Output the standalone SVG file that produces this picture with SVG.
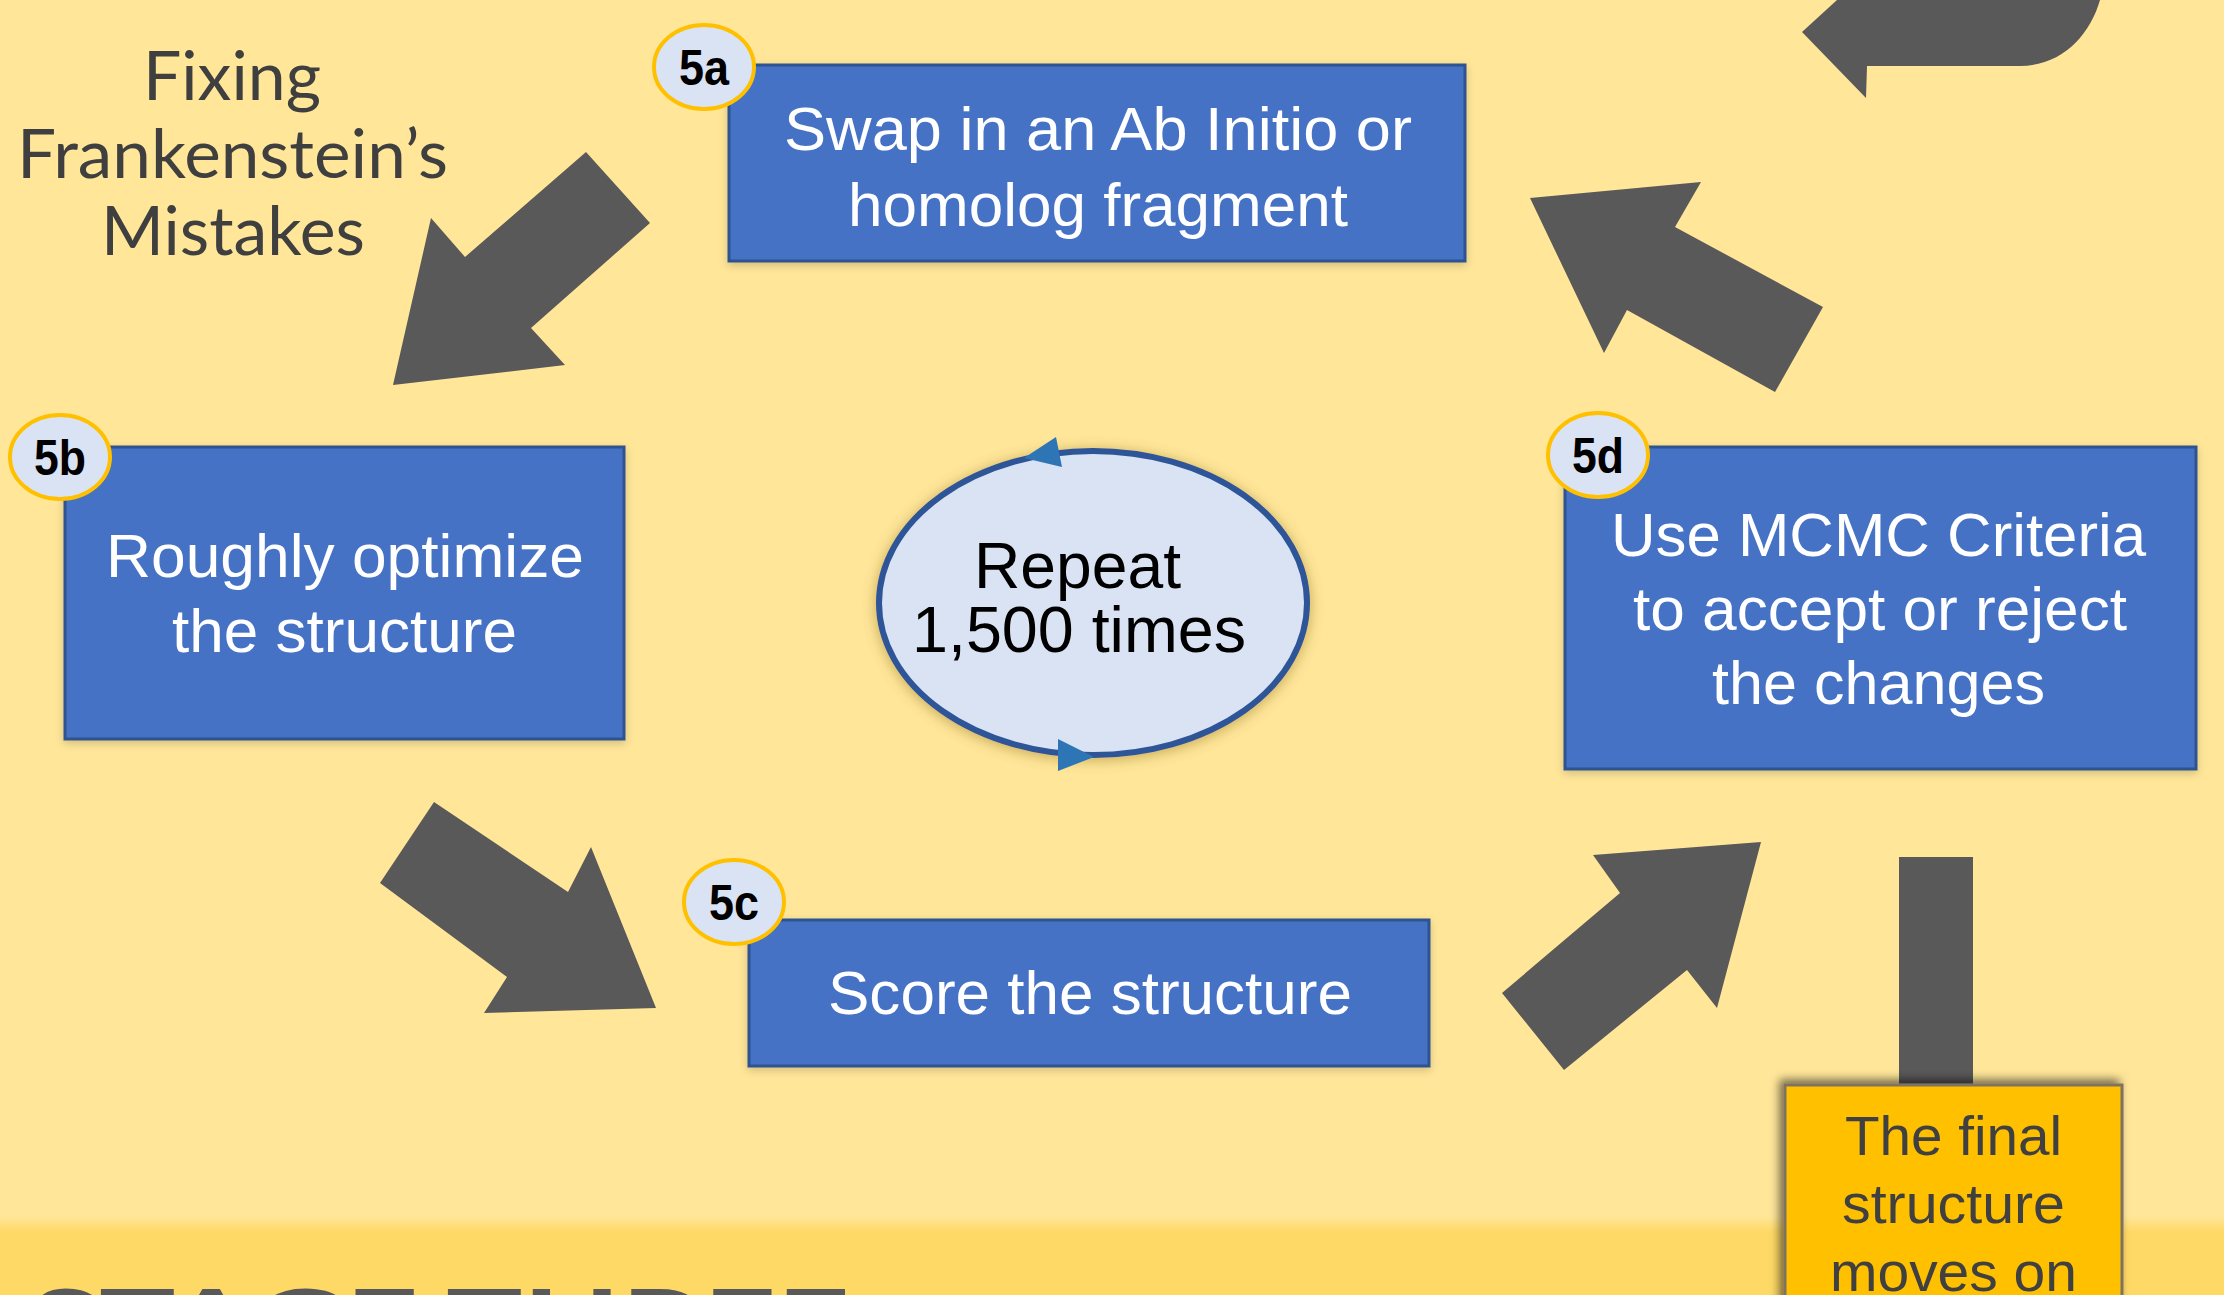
<svg xmlns="http://www.w3.org/2000/svg" width="2224" height="1295" viewBox="0 0 2224 1295">
<style>
.box{fill:#4472C4;stroke:#2F528F;stroke-width:3}
.bt{font-family:"Liberation Sans",Arial,sans-serif;font-size:62px;fill:#FFFFFF}
.lab{fill:#DAE3F3;stroke:#FFC000;stroke-width:4}
.lt{font-family:"Liberation Sans",Arial,sans-serif;font-size:50px;font-weight:bold;fill:#000000;text-anchor:middle}
.arr{fill:#595959}
.title{font-family:Lato,"Open Sans",sans-serif;font-size:68px;fill:#3F3F3F}
</style>
<defs>
<linearGradient id="band" x1="0" y1="0" x2="0" y2="1">
<stop offset="0" stop-color="#FFE699"/>
<stop offset="1" stop-color="#FFD966"/>
</linearGradient>
<filter id="sh" x="-10%" y="-10%" width="120%" height="130%">
<feDropShadow dx="0" dy="3" stdDeviation="4" flood-color="#000" flood-opacity="0.18"/>
</filter>
<filter id="esh" x="-15%" y="-15%" width="130%" height="130%">
<feDropShadow dx="0" dy="2" stdDeviation="7" flood-color="#7a5a00" flood-opacity="0.45"/>
</filter>
<filter id="fsh" x="-10%" y="-10%" width="120%" height="120%">
<feDropShadow dx="-4" dy="-4" stdDeviation="5" flood-color="#000" flood-opacity="0.55"/>
</filter>
</defs>
<rect width="2224" height="1295" fill="#FFE699"/>
<rect x="0" y="1216" width="2224" height="16" fill="url(#band)"/>
<rect x="0" y="1231" width="2224" height="64" fill="#FFD966"/>
<text x="29" y="1354" font-family="Lato,'Open Sans',sans-serif" font-size="90" font-weight="bold" fill="#595959" textLength="821" lengthAdjust="spacingAndGlyphs">STAGE THREE</text>

<g id="title">
<text class="title" x="143" y="100" textLength="178" lengthAdjust="spacingAndGlyphs">Fixing</text>
<text class="title" x="17" y="178" textLength="431" lengthAdjust="spacingAndGlyphs">Frankenstein’s</text>
<text class="title" x="101" y="255" textLength="264" lengthAdjust="spacingAndGlyphs">Mistakes</text>
</g>

<g id="connectors">
<polygon class="arr" points="586,152 650,223 531,328 565,365 393,385 431,218 465,257"/>
<polygon class="arr" points="434,802 380,883 507,977 484,1013 656,1008 591,847 568,892"/>
<polygon class="arr" points="1502,993 1564,1070 1687,970 1717,1008 1761,842 1593,855 1620,893"/>
<polygon class="arr" points="1823,307 1775,392 1627,310 1604,353 1530,198 1701,182 1675,227"/>
<path class="arr" d="M1837,0 L1802,32 L1866,98 L1867,66 L2020,66 C2062,66 2090,35 2100,0 Z"/>
<rect class="arr" x="1899" y="857" width="74" height="228"/>
</g>

<g id="node-5a">
<rect class="box" x="729" y="65" width="736" height="196" filter="url(#sh)"/>
<text class="bt" x="784" y="150" textLength="628" lengthAdjust="spacingAndGlyphs">Swap in an Ab Initio or</text>
<text class="bt" x="848" y="226" textLength="500" lengthAdjust="spacingAndGlyphs">homolog fragment</text>
<ellipse class="lab" cx="704" cy="67" rx="50" ry="42"/>
<text class="lt" x="704" y="85" textLength="50" lengthAdjust="spacingAndGlyphs">5a</text>
</g>

<g id="node-5b">
<rect class="box" x="65" y="447" width="559" height="292" filter="url(#sh)"/>
<text class="bt" x="106" y="577" textLength="478" lengthAdjust="spacingAndGlyphs">Roughly optimize</text>
<text class="bt" x="172" y="652" textLength="345" lengthAdjust="spacingAndGlyphs">the structure</text>
<ellipse class="lab" cx="60" cy="457" rx="50" ry="42"/>
<text class="lt" x="60" y="475" textLength="52" lengthAdjust="spacingAndGlyphs">5b</text>
</g>

<g id="node-5c">
<rect class="box" x="749" y="920" width="680" height="146" filter="url(#sh)"/>
<text class="bt" x="828" y="1014" textLength="524" lengthAdjust="spacingAndGlyphs">Score the structure</text>
<ellipse class="lab" cx="734" cy="902" rx="50" ry="42"/>
<text class="lt" x="734" y="920" textLength="50" lengthAdjust="spacingAndGlyphs">5c</text>
</g>

<g id="node-5d">
<rect class="box" x="1565" y="447" width="631" height="322" filter="url(#sh)"/>
<text class="bt" x="1611" y="556" textLength="535" lengthAdjust="spacingAndGlyphs">Use MCMC Criteria</text>
<text class="bt" x="1633" y="630" textLength="494" lengthAdjust="spacingAndGlyphs">to accept or reject</text>
<text class="bt" x="1712" y="704" textLength="333" lengthAdjust="spacingAndGlyphs">the changes</text>
<ellipse class="lab" cx="1598" cy="455" rx="50" ry="42"/>
<text class="lt" x="1598" y="473" textLength="52" lengthAdjust="spacingAndGlyphs">5d</text>
</g>

<g id="node-repeat">
<ellipse cx="1093" cy="603" rx="214" ry="152" fill="#DAE3F3" stroke="#2F5597" stroke-width="6" filter="url(#esh)"/>
<polygon points="1024,458 1062,467 1056,437" fill="#2E75B6"/>
<polygon points="1094,757 1058,739 1058,771" fill="#2E75B6"/>
<text x="974" y="588" font-family="'Liberation Sans',Arial,sans-serif" font-size="64" fill="#000" textLength="207" lengthAdjust="spacingAndGlyphs">Repeat</text>
<text x="912" y="652" font-family="'Liberation Sans',Arial,sans-serif" font-size="64" fill="#000" textLength="334" lengthAdjust="spacingAndGlyphs">1,500 times</text>
</g>

<g id="node-final">
<rect x="1785" y="1085" width="337" height="240" fill="#FFC000" stroke="#7F7260" stroke-width="3" filter="url(#fsh)"/>
<text x="1845" y="1155" font-family="'Liberation Sans',Arial,sans-serif" font-size="56" fill="#404040" textLength="217" lengthAdjust="spacingAndGlyphs">The final</text>
<text x="1842" y="1223" font-family="'Liberation Sans',Arial,sans-serif" font-size="56" fill="#404040" textLength="223" lengthAdjust="spacingAndGlyphs">structure</text>
<text x="1830" y="1291" font-family="'Liberation Sans',Arial,sans-serif" font-size="56" fill="#404040" textLength="247" lengthAdjust="spacingAndGlyphs">moves on</text>
</g>
</svg>
